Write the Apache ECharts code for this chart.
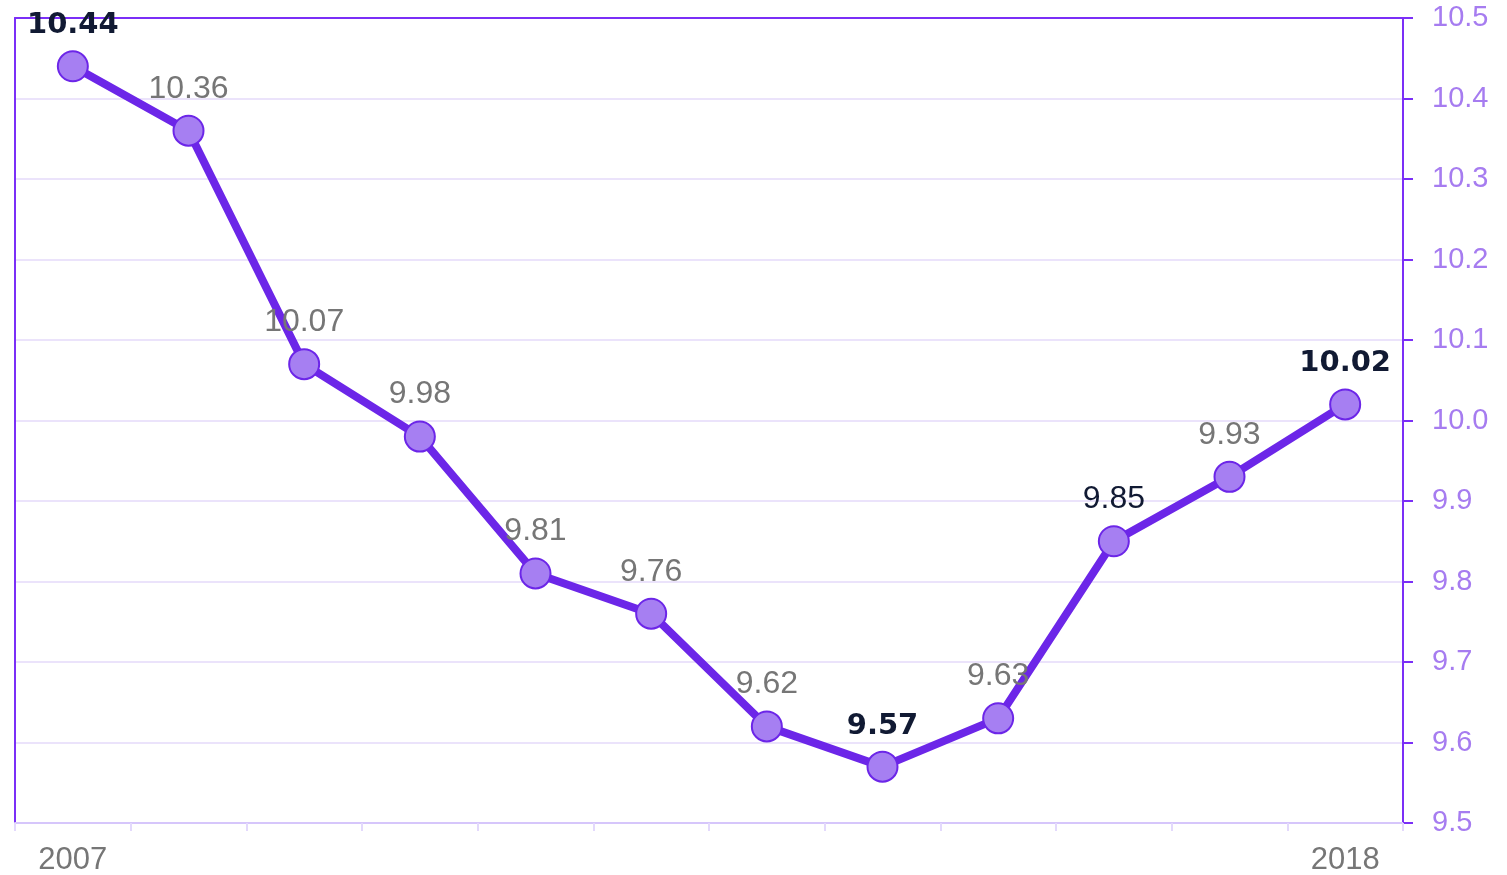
<!DOCTYPE html>
<html><head><meta charset="utf-8">
<script src="https://cdn.jsdelivr.net/npm/echarts@6/dist/echarts.min.js"></script>
<style>html,body{margin:0;padding:0;background:#fff}#c{width:1507px;height:875px}</style>
</head><body><div id="c"></div>
<script>
const years = ['2007','2008','2009','2010','2011','2012','2013','2014','2015','2016','2017','2018'];
const values = [10.44,10.36,10.07,9.98,9.81,9.76,9.62,9.57,9.63,9.85,9.93,10.02];
const boldIdx = [0,7,11];
const darkIdx = [9];
const yTicks = [9.5,9.6,9.7,9.8,9.9,10.0,10.1,10.2,10.3,10.4,10.5];

const font = 'Liberation Sans, Arial, sans-serif';
const data = values.map((v,i)=>{
  const bold = boldIdx.includes(i), dark = darkIdx.includes(i);
  return {value:v, label: bold
    ? {color:'#111a33', fontWeight:'bold', fontFamily:'DejaVu Sans', fontSize:29}
    : {color: dark?'#111a33':'#767676'}};
});
const chart = echarts.init(document.getElementById('c'));
chart.setOption({
  animation:false,
  grid:{left:15,right:104,top:18,bottom:52,outerBoundsMode:'none',containLabel:false},
  xAxis:[{type:'category',data:years,boundaryGap:true,
    axisLine:{lineStyle:{color:'#d6c6fb',width:2}},
    axisTick:{show:true,interval:0,length:8,lineStyle:{color:'#e3d9fc',width:2}},
    axisLabel:{interval:(i)=>i===0||i===years.length-1,color:'#767676',fontSize:31,fontFamily:font,margin:22},
    splitLine:{show:false}},
    {type:'category',data:years,position:'top',axisLine:{lineStyle:{color:'#7b2ff7',width:2}},axisTick:{show:false},axisLabel:{show:false}}],
  yAxis:[{type:'value',position:'right',min:yTicks[0],max:yTicks[yTicks.length-1],interval:0.1,
    axisLine:{show:true,lineStyle:{color:'#7b2ff7',width:2}},
    axisTick:{show:true,length:10,lineStyle:{color:'#7b2ff7',width:2}},
    axisLabel:{color:'#a67cf0',fontSize:29,fontFamily:font,margin:29,formatter:(v)=>v.toFixed(1)},
    splitLine:{lineStyle:{color:'#ebe3fb',width:2}}},
    {type:'value',position:'left',min:yTicks[0],max:yTicks[yTicks.length-1],interval:0.1,
    axisLine:{show:true,lineStyle:{color:'#7b2ff7',width:2}},axisTick:{show:false},axisLabel:{show:false},splitLine:{show:false}}],
  series:[{type:'line',data:data,yAxisIndex:0,
    lineStyle:{color:'#6c26e8',width:8},
    symbol:'circle',symbolSize:30,
    itemStyle:{color:'#a67ff2',borderColor:'#6c26e8',borderWidth:2},
    label:{show:true,position:'top',distance:10,fontSize:32,fontFamily:font}
  }]
});
</script></body></html>
